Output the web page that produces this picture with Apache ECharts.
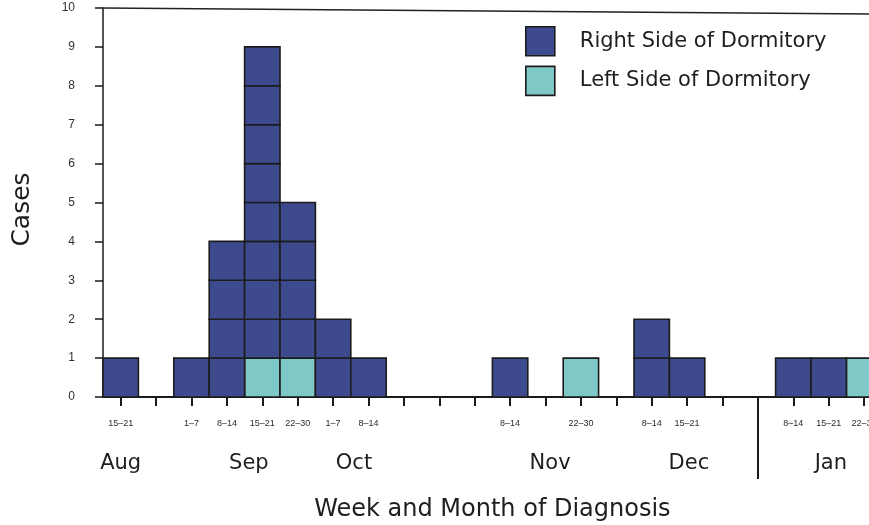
<!DOCTYPE html>
<html><head><meta charset="utf-8">
<script src="https://cdn.jsdelivr.net/npm/echarts@6/dist/echarts.min.js"></script>
<style>html,body{margin:0;padding:0;background:#fff}#c{width:869px;height:525px}</style>
</head><body><div id="c"></div>
<script>
// ---- data ----
const weeks = ['Aug 15–21','Aug 22–31','Sep 1–7','Sep 8–14','Sep 15–21','Sep 22–30','Oct 1–7','Oct 8–14','Oct 15–21','Oct 22–31','Nov 1–7','Nov 8–14','Nov 15–21','Nov 22–30','Dec 1–7','Dec 8–14','Dec 15–21','Dec 22–31','Jan 1–7','Jan 8–14','Jan 15–21','Jan 22–31'];
const weekLabels = ['15–21','','1–7','8–14','15–21','22–30','1–7','8–14','','','','8–14','','22–30','','8–14','15–21','','','8–14','15–21','22–31'];
const rightSide = [1,0,1,4,8,4,2,1,0,0,0,1,0,0,0,2,1,0,0,1,1,0];
const leftSide  = [0,0,0,0,1,1,0,0,0,0,0,0,0,1,0,0,0,0,0,0,0,1];
const months = ['Aug','Sep','Oct','Nov','Dec','Jan'];
const monthPos = [0, 3.62, 6.59, 12.13, 16.05, 20.06]; // in category units
const yearBreakIndex = 18;
const yTicks = [0,1,2,3,4,5,6,7,8,9,10];

// ---- layout ----
const GL = 103, GT = 8, GB = 128, BAND = 35.4;
const W = 869;
const GR = W - GL - BAND * weeks.length; // negative: grid runs past the right edge

const BLUE = '#3d4a8e', TEAL = '#7ec8c8', EDGE = '#1c1c1c';
const FONT = '"DejaVu Sans", sans-serif';
const FONT2 = '"Liberation Sans", Arial, sans-serif';

// unit boxes: [categoryIndex, baseLevel]
const leftBoxes = [], rightBoxes = [];
weeks.forEach((w, i) => {
  for (let k = 0; k < leftSide[i]; k++) leftBoxes.push([i, k]);
  for (let k = 0; k < rightSide[i]; k++) rightBoxes.push([i, leftSide[i] + k]);
});

function renderBox(params, api) {
  const p = api.coord([api.value(0), api.value(1)]);
  const s = api.size([1, 1]);
  return {
    type: 'rect',
    shape: { x: p[0] - s[0] / 2, y: p[1] - s[1], width: s[0], height: s[1] },
    style: { fill: api.visual('color'), stroke: EDGE, lineWidth: 1.6 }
  };
}

const graphic = [
  { type: 'line', shape: { x1: GL, y1: GT, x2: W, y2: GT + 6 }, style: { stroke: '#222', lineWidth: 1.5 } }
];
months.forEach((m, i) => {
  graphic.push({
    type: 'text', x: GL + (monthPos[i] + 0.5) * BAND, y: 464,
    style: { text: m, font: '21px ' + FONT, fill: '#1e1e1e', textAlign: 'center', textVerticalAlign: 'middle' }
  });
});

const chart = echarts.init(document.getElementById('c'), null, { renderer: 'canvas' });
chart.setOption({
  animation: false,
  backgroundColor: '#fff',
  textStyle: { fontFamily: FONT },
  grid: { left: GL, top: GT, right: GR, bottom: GB, containLabel: false, outerBoundsMode: 'none' },
  legend: {
    orient: 'vertical', left: 525, top: 26, padding: 0, itemWidth: 29, itemHeight: 29, itemGap: 9,
    icon: 'rect',
    itemStyle: { borderColor: EDGE, borderWidth: 1.6 },
    data: ['Right Side of Dormitory', 'Left Side of Dormitory'],
    textStyle: { fontSize: 21, color: '#1e1e1e', fontFamily: FONT, padding: [0, 0, 0, 20] }
  },
  xAxis: [{
    type: 'category', data: weeks, boundaryGap: true,
    axisLine: { show: true, lineStyle: { color: '#1a1a1a', width: 2 } },
    axisTick: { show: true, alignWithLabel: true, length: 9, lineStyle: { color: '#1a1a1a', width: 2 },
      interval: (i) => i !== yearBreakIndex },
    axisLabel: { interval: 0, margin: 22, fontSize: 9, color: '#2a2a2a', fontFamily: FONT2,
      formatter: (v, i) => weekLabels[i] },
    name: 'Week and Month of Diagnosis', nameLocation: 'middle', nameGap: 101,
    nameTextStyle: { fontSize: 24, color: '#1e1e1e', fontFamily: FONT }
  }, {
    type: 'category', data: weeks, boundaryGap: true, position: 'bottom',
    axisLine: { show: false },
    axisTick: { show: true, alignWithLabel: true, length: 82, lineStyle: { color: '#1a1a1a', width: 2 },
      interval: (i) => i === yearBreakIndex },
    axisLabel: { show: false }
  }],
  yAxis: {
    type: 'value', min: yTicks[0], max: yTicks[yTicks.length - 1], interval: 1,
    splitLine: { show: false },
    axisLine: { show: true, lineStyle: { color: '#1a1a1a', width: 1.5 } },
    axisTick: { show: true, length: 8, lineStyle: { color: '#1a1a1a', width: 1.5 } },
    axisLabel: { fontSize: 12, color: '#333', margin: 28, fontFamily: FONT2 },
    name: 'Cases', nameLocation: 'middle', nameGap: 68,
    nameTextStyle: { fontSize: 25, color: '#1e1e1e', fontFamily: FONT, padding: [0, 14, 0, 0] }
  },
  graphic: graphic,
  series: [{
    name: 'Left Side of Dormitory', type: 'custom', renderItem: renderBox,
    itemStyle: { color: TEAL }, data: leftBoxes, encode: { x: 0, y: 1 }, silent: true
  }, {
    name: 'Right Side of Dormitory', type: 'custom', renderItem: renderBox,
    itemStyle: { color: BLUE }, data: rightBoxes, encode: { x: 0, y: 1 }, silent: true
  }]
});
</script></body></html>
